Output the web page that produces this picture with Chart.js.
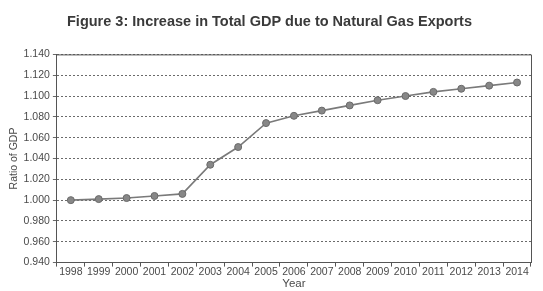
<!DOCTYPE html>
<html>
<head>
<meta charset="utf-8">
<script src="https://cdn.jsdelivr.net/npm/chart.js@4/dist/chart.umd.min.js"></script>
<style>
  html, body { margin: 0; padding: 0; background: #fff; }
  #wrap { width: 543px; height: 291px; position: relative; }
</style>
</head>
<body>
<div id="wrap"><canvas id="chart"></canvas></div>
<script>
// values
const years = ['1998', '1999', '2000', '2001', '2002', '2003', '2004', '2005', '2006',
  '2007', '2008', '2009', '2010', '2011', '2012', '2013', '2014'];
const gdpRatio = [1.000, 1.001, 1.002, 1.004, 1.006, 1.034, 1.051, 1.074, 1.081,
  1.086, 1.091, 1.096, 1.100, 1.104, 1.107, 1.110, 1.113];
const yMin = 0.94;
const yMax = 1.14;
const yStep = 0.02;

const axisColor = '#555555';
const textColor = '#4a4a4a';
const tickFont = { family: 'Liberation Sans', size: 10.5 };

// draws the frame on the top and right of the plot area
const frameBox = {
  id: 'frameBox',
  afterDraw(chart) {
    const { ctx, chartArea: a } = chart;
    ctx.save();
    ctx.strokeStyle = axisColor;
    ctx.lineWidth = 1;
    ctx.beginPath();
    ctx.moveTo(a.left, a.top + 0.5);
    ctx.lineTo(a.right + 0.5, a.top + 0.5);
    ctx.lineTo(a.right + 0.5, a.bottom);
    ctx.stroke();
    ctx.restore();
  }
};

new Chart(document.getElementById('chart'), {
  type: 'line',
  data: {
    labels: years,
    datasets: [{
      label: 'Ratio of GDP',
      data: gdpRatio,
      borderColor: '#7a7a7a',
      borderWidth: 1.6,
      pointBackgroundColor: '#878787',
      pointBorderColor: '#6a6a6a',
      pointBorderWidth: 1,
      pointRadius: 3.5,
      tension: 0
    }]
  },
  options: {
    responsive: true,
    maintainAspectRatio: false,
    animation: false,
    layout: { padding: { top: 8, right: 12, bottom: 0, left: 8 } },
    plugins: {
      legend: { display: false },
      tooltip: { enabled: false },
      title: {
        display: true,
        text: 'Figure 3: Increase in Total GDP due to Natural Gas Exports',
        color: '#3a3a3a',
        font: { family: 'Liberation Sans', size: 14.5, weight: 'bold' },
        padding: { top: 5, bottom: 24 }
      }
    },
    scales: {
      x: {
        offset: true,
        grid: {
          offset: true,
          drawOnChartArea: false,
          drawTicks: true,
          tickLength: 4,
          color: axisColor
        },
        border: { display: true, color: axisColor, width: 1 },
        ticks: { color: textColor, font: tickFont, maxRotation: 0, autoSkip: false, padding: -1 },
        title: {
          display: true,
          text: 'Year',
          color: textColor,
          font: { family: 'Liberation Sans', size: 11.5 },
          padding: { top: 0, bottom: 0 }
        }
      },
      y: {
        min: yMin,
        max: yMax,
        grid: {
          color: '#6a6a6a',
          lineWidth: 1,
          drawTicks: true,
          tickLength: 4
        },
        border: { display: true, color: axisColor, width: 1, dash: [2, 2] },
        ticks: {
          stepSize: yStep,
          color: textColor,
          font: tickFont,
          padding: 3,
          callback: (v) => v.toFixed(3)
        },
        title: {
          display: true,
          text: 'Ratio of GDP',
          color: textColor,
          font: { family: 'Liberation Sans', size: 10.5 },
          padding: { top: 0, bottom: 0 }
        }
      }
    }
  },
  plugins: [frameBox]
});
</script>
</body>
</html>
